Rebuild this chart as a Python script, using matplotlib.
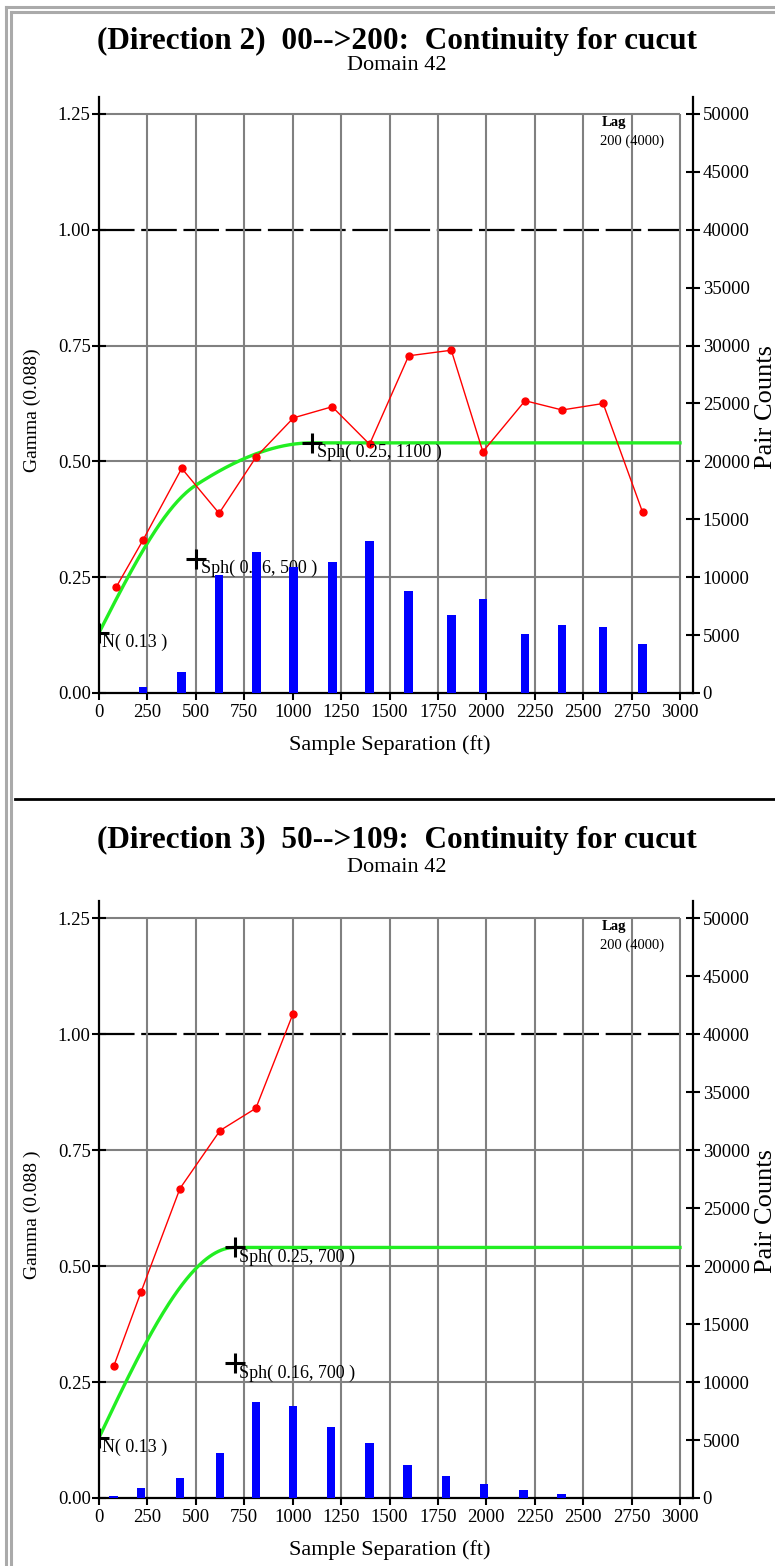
import numpy as np
import matplotlib
matplotlib.use('Agg')
import matplotlib.pyplot as plt
from matplotlib.lines import Line2D

plt.rcParams['font.family'] = ['Liberation Serif', 'DejaVu Serif']

# Direction 2 (top panel)
top_lag = [88, 227, 427, 620, 812, 1004, 1204, 1397, 1599, 1819, 1982, 2200, 2391, 2603, 2807]
top_gamma = [0.228, 0.330, 0.485, 0.388, 0.510, 0.594, 0.618, 0.537, 0.728, 0.740,
             0.521, 0.631, 0.611, 0.625, 0.390]
top_pairs = [40, 490, 1840, 10190, 12150, 10910, 11290, 13150, 8780, 6740,
             8090, 5070, 5900, 5730, 4210]
top_nugget = 0.13
top_sph = [(0.16, 500), (0.25, 1100)]

# Direction 3 (bottom panel)
bot_lag = [76, 217, 418, 625, 810, 1002, 1198, 1396, 1592, 1792, 1988, 2191, 2387, 2588, 2774]
bot_gamma = [0.284, 0.444, 0.667, 0.792, 0.840, 1.044]
bot_pairs = [200, 900, 1720, 3910, 8280, 7930, 6100, 4740, 2880, 1900,
             1210, 720, 380, 40, 40]
bot_nugget = 0.13
bot_sph = [(0.16, 700), (0.25, 700)]

xticks = np.arange(0, 3001, 250)
yticks = [0.0, 0.25, 0.5, 0.75, 1.0, 1.25]
pair_ticks = np.arange(0, 50001, 5000)

XMAX = 3067
YMAX = 1.2867
TICK_FS = 13.5


def sph_model(h, nugget, structs):
    g = np.full_like(h, nugget, dtype=float)
    for c, a in structs:
        r = np.minimum(h / a, 1.0)
        g += c * (1.5 * r - 0.5 * r ** 3)
    return g


def panel(rect, lag, gamma, pairs, nugget, structs, ylab):
    ax = fig.add_axes(rect)
    ax2 = ax.twinx()
    ax.set_xlim(0, XMAX)
    ax.set_ylim(0, YMAX)
    ax2.set_ylim(0, YMAX * 40000)

    # grid only inside 0..3000 / 0..1.25
    for y in yticks[1:]:
        if y == 1.0:
            ax.hlines(y, 0, 3000, color='black', lw=1.6, linestyles=(0, (16, 3)), zorder=1)
        else:
            ax.hlines(y, 0, 3000, color='#808080', lw=1.5, zorder=1)
    for x in xticks[1:]:
        ax.vlines(x, 0, 1.25, color='#808080', lw=1.5, zorder=1)

    # model curve
    h = np.linspace(0, 3000, 400)
    ax.plot(h, sph_model(h, nugget, structs), color='#22ee22', lw=2.4, zorder=3)

    # experimental points
    ax.plot(lag[:len(gamma)], gamma, color='red', lw=1, marker='o', ms=5, zorder=4)

    # structure markers
    ax.plot(0, nugget, marker='+', color='black', ms=14, mew=2.2, zorder=5)
    ax.text(15, nugget - 0.002, 'N( %.2f )' % nugget, fontsize=13, va='top', ha='left', zorder=5)
    level = nugget
    for c, a in structs:
        level += c
        ax.plot(a, level, marker='+', color='black', ms=14, mew=2.2, zorder=5)
        ax.text(a + 25, level - 0.002, 'Sph( %.2f, %d )' % (c, a), fontsize=13,
                va='top', ha='left', zorder=5)

    ax.text(2595, 1.232, 'Lag', fontsize=10.5, fontweight='bold', va='center', ha='left')
    ax.text(2585, 1.192, '200 (4000)', fontsize=10.5, va='center', ha='left')

    ax2.bar(lag, pairs, width=45, color='blue', zorder=6)

    for a in (ax, ax2):
        a.spines['top'].set_visible(False)
    ax.spines['right'].set_visible(False)
    ax2.spines['left'].set_visible(False)
    ax2.spines['bottom'].set_visible(False)
    for s in ('left', 'bottom'):
        ax.spines[s].set_linewidth(1.6)
    ax2.spines['right'].set_linewidth(1.6)

    ax.set_xticks(xticks)
    ax.set_yticks(yticks)
    ax.set_yticklabels(['%.2f' % v for v in yticks])
    ax2.set_yticks(pair_ticks)
    ax.tick_params(axis='y', direction='inout', length=10, width=1.5, labelsize=TICK_FS, pad=1)
    ax.tick_params(axis='x', direction='out', length=5, width=1.5, labelsize=TICK_FS, pad=3)
    ax2.tick_params(axis='y', direction='inout', length=10, width=1.5, labelsize=TICK_FS, pad=2)

    ax.set_xlabel('Sample Separation (ft)', fontsize=16, labelpad=10)
    ax.xaxis.label.set_x(1500 / XMAX)
    ax.set_ylabel(ylab, fontsize=14, labelpad=12)
    ax.yaxis.label.set_y(0.475)
    ax2.set_ylabel('Pair Counts', fontsize=19, labelpad=4)
    ax2.yaxis.label.set_y(0.48)
    return ax


fig = plt.figure(figsize=(7.75, 15.66), dpi=100)
W, H = 775.0, 1566.0

panel([99 / W, 1 - 693 / H, 594 / W, 596 / H], top_lag, top_gamma, top_pairs,
      top_nugget, top_sph, 'Gamma (0.088)')
panel([99 / W, 1 - 1498 / H, 594 / W, 597 / H], bot_lag, bot_gamma, bot_pairs,
      bot_nugget, bot_sph, 'Gamma (0.088 )')

fig.text(397 / W, 1 - 41 / H, '(Direction 2)  00-->200:  Continuity for cucut',
         fontsize=22.5, fontweight='bold', ha='center', va='center')
fig.text(397 / W, 1 - 65 / H, 'Domain 42', fontsize=16, ha='center', va='center')
fig.text(397 / W, 1 - 840 / H, '(Direction 3)  50-->109:  Continuity for cucut',
         fontsize=22.5, fontweight='bold', ha='center', va='center')
fig.text(397 / W, 1 - 868 / H, 'Domain 42', fontsize=16, ha='center', va='center')

# page frame and separator
for x in (6, 11):
    fig.add_artist(Line2D([x / W, x / W], [0, 1 - (x + 1) / H], color='#aaaaaa', lw=2.2))
for y in (7, 12):
    fig.add_artist(Line2D([(y - 1) / W, 1], [1 - y / H, 1 - y / H], color='#aaaaaa', lw=2.2))
fig.add_artist(Line2D([15 / W, 1], [1 - 799 / H, 1 - 799 / H], color='black', lw=2))

fig.savefig('out.png', dpi=100)
